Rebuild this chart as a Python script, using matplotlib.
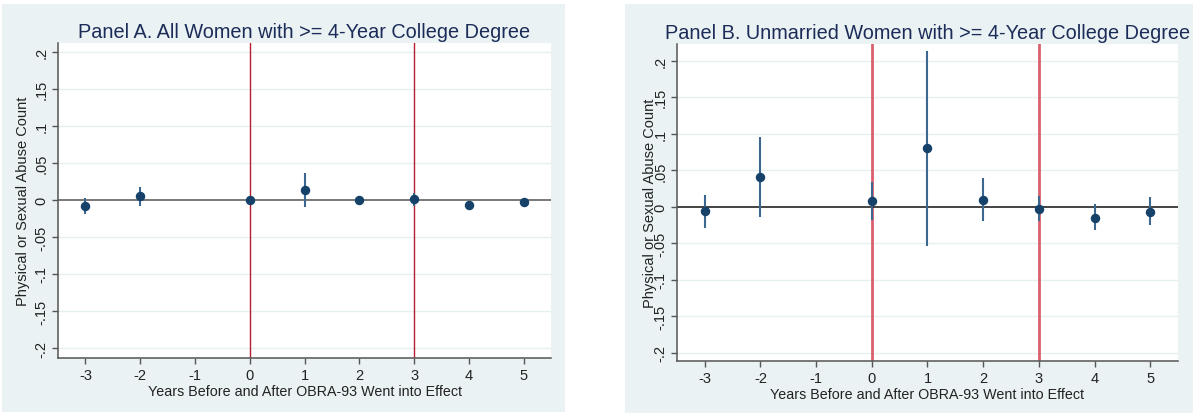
import matplotlib
matplotlib.use("Agg")
import matplotlib.pyplot as plt
from matplotlib.patches import Rectangle

plt.rcParams['font.family'] = ['Liberation Sans', 'DejaVu Sans']
plt.rcParams['axes.unicode_minus'] = False

# ─── DATA ───────────────────────────────────────────────
years = [-3, -2, 0, 1, 2, 3, 4, 5]
xticks = [-3, -2, -1, 0, 1, 2, 3, 4, 5]
yticks = [-0.2, -0.15, -0.1, -0.05, 0, 0.05, 0.1, 0.15, 0.2]
ytick_labels = ["-.2", "-.15", "-.1", "-.05", "0", ".05", ".1", ".15", ".2"]
event_lines = [0, 3]

a_coef = [-0.008, 0.0055, 0.0005, 0.0135, 0.0005, 0.001, -0.0068, -0.0027]
a_low  = [-0.019, -0.008, -0.005, -0.009, -0.005, -0.008, -0.012, -0.007]
a_high = [0.002, 0.018, 0.006, 0.036, 0.006, 0.010, -0.001, 0.001]

b_coef = [-0.006, 0.041, 0.008, 0.080, 0.0097, -0.003, -0.015, -0.0065]
b_low  = [-0.029, -0.014, -0.018, -0.054, -0.020, -0.020, -0.032, -0.025]
b_high = [0.016, 0.096, 0.034, 0.213, 0.039, 0.015, 0.004, 0.013]

title_a = "Panel A. All Women with >= 4-Year College Degree"
title_b = "Panel B. Unmarried Women with >= 4-Year College Degree"
xlabel = "Years Before and After OBRA-93 Went into Effect"
ylabel = "Physical or Sexual Abuse Count"

W, H = 1193, 414
BG = "#eaf2f3"
NAVY = "#16426a"
BAR = "#3b6790"
TITLE_C = "#1c2c58"

fig = plt.figure(figsize=(W / 100, H / 100), dpi=100)
fig.patch.set_facecolor("white")


def px_rect(x0, y0, x1, y1):
    # pixel box (top-left origin) -> figure coords
    return [x0 / W, 1 - y1 / H, (x1 - x0) / W, (y1 - y0) / H]


# panel backgrounds (behind the axes)
for box in [(2, 5, 565, 413), (625, 5, 1193, 414)]:
    l, b, w, h = px_rect(*box)
    fig.patches.append(Rectangle((l, b), w, h, transform=fig.transFigure,
                                 facecolor=BG, edgecolor="none", zorder=-10))


def panel(box, coef, low, high, title, ylim, red_c, red_w, zero_c, ylabelpad):
    ax = fig.add_axes(px_rect(*box))
    ax.set_facecolor("white")
    for y in yticks:
        if y != 0:
            ax.axhline(y, color="#e6f0f1", lw=1.0, zorder=1)
    for x in event_lines:
        ax.axvline(x, color=red_c, lw=red_w, zorder=2)
    ax.axhline(0, color=zero_c, lw=1.1, zorder=2)
    ax.vlines(years, low, high, color=BAR, lw=1.5, zorder=3)
    ax.plot(years, coef, "o", color=NAVY, ms=5.8, zorder=4)

    ax.set_xlim(-3.5, 5.5)
    ax.set_ylim(*ylim)
    ax.set_xticks(xticks)
    ax.set_yticks(yticks)
    ax.set_yticklabels(ytick_labels, rotation=90, va="center")
    ax.tick_params(axis="both", labelsize=10.5, colors="#222222", length=4,
                   width=1, pad=3)
    ax.tick_params(axis="both", color="#555555")
    for s in ["top", "right"]:
        ax.spines[s].set_visible(False)
    for s in ["left", "bottom"]:
        ax.spines[s].set_color("#555555")
        ax.spines[s].set_linewidth(1.1)
    ax.set_xlabel(xlabel, fontsize=10.3, color="#222222", labelpad=1.5)
    ax.set_ylabel(ylabel, fontsize=10.5, color="#222222", labelpad=ylabelpad)
    ax.set_title(title, fontsize=14.3, color=TITLE_C, pad=4)
    return ax


panel((58, 44, 551, 359), a_coef, a_low, a_high, title_a,
      (-0.2135, 0.212), "#b51d30", 1.0, "#555555", 3)
panel((677, 45, 1178, 362), b_coef, b_low, b_high, title_b,
      (-0.211, 0.223), "#d9606e", 2.0, "#111111", -3)

fig.savefig("out.png", dpi=100, facecolor=fig.get_facecolor())
